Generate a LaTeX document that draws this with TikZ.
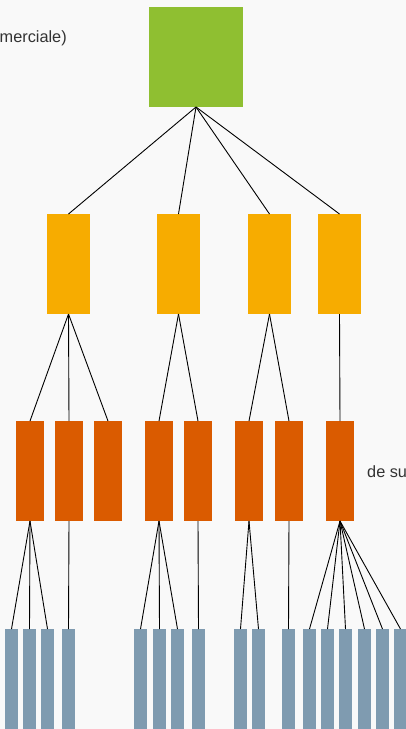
\documentclass[tikz,border=0pt]{standalone}
\usepackage{fontspec}
\setmainfont{Liberation Sans}
\definecolor{bg}{HTML}{F9F9F9}
\definecolor{cgreen}{HTML}{8FBF31}
\definecolor{cyellow}{HTML}{F7AC00}
\definecolor{corange}{HTML}{DA5B00}
\definecolor{cbar}{HTML}{7F9BB0}
\definecolor{ctext}{HTML}{333333}
\begin{document}
\begin{tikzpicture}[x=1pt,y=-1pt,
  box/.style={inner sep=0pt, outer sep=0pt, minimum height=100pt},
  topbox/.style={box, fill=cgreen, minimum width=94pt},
  midbox/.style={box, fill=cyellow, minimum width=43pt},
  lowbox/.style={box, fill=corange, minimum width=28pt},
  leafbox/.style={box, fill=cbar, minimum width=13pt},
  link/.style={draw=black, line width=0.9pt},
  lbl/.style={inner sep=0pt, text=ctext, font=\fontsize{16.3}{19}\selectfont}]
\useasboundingbox (0,0) rectangle (406,729);
\clip (0,0) rectangle (406,729);
\fill[bg] (0,0) rectangle (406,729);
% nodes
\node[topbox] (g) at (196,57) {};
\foreach \i/\x in {1/68.5,2/178.5,3/269.5,4/339.5}
  \node[midbox] (y\i) at (\x,264) {};
\foreach \i/\x in {1/30,2/69,3/108,4/159,5/198,6/249,7/289,8/340}
  \node[lowbox] (o\i) at (\x,471) {};
\foreach \i/\x in {1/11.5,2/29.5,3/47.5,4/68.5,5/140.5,6/159.5,7/177.5,8/198.5,9/240.5,10/258.5,11/288.5,12/309.5,13/327.5,14/345.5,15/364.5,16/382.5,17/400.5}
  \node[leafbox] (b\i) at (\x,679) {};
% connectors
\foreach \c in {y1,y2,y3,y4} \draw[link] (g.south) -- (\c.north);
\foreach \c in {o1,o2,o3} \draw[link] (y1.south) -- (\c.north);
\foreach \c in {o4,o5} \draw[link] (y2.south) -- (\c.north);
\foreach \c in {o6,o7} \draw[link] (y3.south) -- (\c.north);
\draw[link] (y4.south) -- (o8.north);
\foreach \c in {b1,b2,b3} \draw[link] (o1.south) -- (\c.north);
\draw[link] (o2.south) -- (b4.north);
\foreach \c in {b5,b6,b7} \draw[link] (o4.south) -- (\c.north);
\draw[link] (o5.south) -- (b8.north);
\foreach \c in {b9,b10} \draw[link] (o6.south) -- (\c.north);
\draw[link] (o7.south) -- (b11.north);
\foreach \c in {b12,b13,b14,b15,b16,b17} \draw[link] (o8.south) -- (\c.north);
% labels
\node[lbl, anchor=base west] (t1) at (-0.5,42.5) {merciale)};
\node[lbl, anchor=base west] (t2) at (367,477) {de su};
\end{tikzpicture}
\end{document}
